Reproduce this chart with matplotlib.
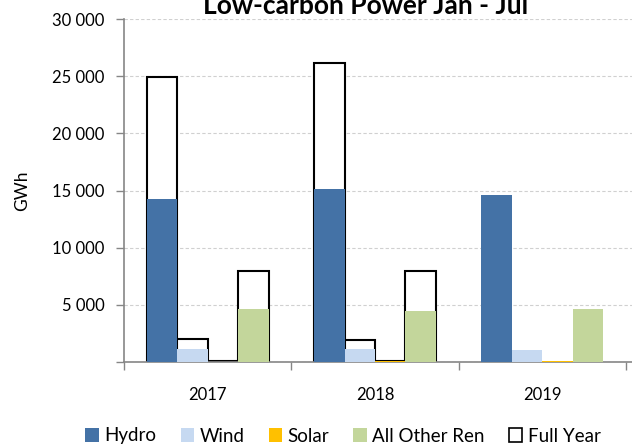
import matplotlib
matplotlib.use("Agg")
import matplotlib.pyplot as plt
import numpy as np
from matplotlib.patches import Patch
from matplotlib.ticker import FuncFormatter, FixedLocator

plt.rcParams['font.family'] = ['Lato', 'DejaVu Sans']

years = ["2017", "2018", "2019"]
series = ["Hydro", "Wind", "Solar", "All Other Ren"]
colors = ["#4472A6", "#C6D9F1", "#FFC000", "#C3D69B"]

# Jan - Jul production, GWh
jan_jul = {
    "Hydro": [14250, 15100, 14600],
    "Wind": [1150, 1100, 1080],
    "Solar": [40, 45, 60],
    "All Other Ren": [4650, 4450, 4600],
}
# full-year totals (no 2019 yet)
full_year = {
    "Hydro": [24950, 26150],
    "Wind": [2050, 1950],
    "Solar": [100, 100],
    "All Other Ren": [8000, 7950],
}

fig = plt.figure(figsize=(6.32, 4.46), dpi=100)
ax = fig.add_axes([124 / 632, 1 - 362 / 446, (632 - 124) / 632, (362 - 19) / 446])

x = np.arange(len(years))
w = 30.5 / 167.5
offsets = (np.arange(len(series)) - 1.5) * w

for i, s in enumerate(series):
    fy = full_year[s]
    ax.bar(x[:len(fy)] + offsets[i], fy, width=w, facecolor="white",
           edgecolor="black", linewidth=1.5, zorder=2)
for i, s in enumerate(series):
    ax.bar(x + offsets[i], jan_jul[s], width=w, color=colors[i],
           linewidth=0, zorder=3)

ax.set_xlim(-0.5, 2.5 + 6 / 167.5)
ax.set_ylim(0, 30000)
ax.set_yticks(np.arange(0, 30001, 5000))
ax.yaxis.set_major_formatter(FuncFormatter(
    lambda v, p: "" if v == 0 else f"{int(v):,}".replace(",", " ")))
ax.yaxis.grid(True, linestyle=(0, (3, 2)), color="#D0D0D0", linewidth=0.8)
ax.set_axisbelow(True)

# ticks sit on category boundaries, labels at centres
ax.xaxis.set_major_locator(FixedLocator([-0.5, 0.5, 1.5, 2.5]))
ax.xaxis.set_major_formatter(FuncFormatter(lambda v, p: ""))
ax.set_xticks(x, minor=True)
ax.set_xticklabels(years, minor=True)
ax.tick_params(axis="x", which="minor", length=0, pad=18, labelsize=12)
ax.tick_params(axis="x", which="major", length=6, color="#868686", width=1)
ax.tick_params(axis="y", length=6, color="#868686", width=1, labelsize=12, pad=8)

for side in ["top", "right"]:
    ax.spines[side].set_visible(False)
for side in ["left", "bottom"]:
    ax.spines[side].set_color("#868686")
    ax.spines[side].set_linewidth(1.2)

ax.set_ylabel("GWh", fontsize=12.5, labelpad=16)
fig.text(366 / 632, 1 - 14 / 446, "Low-carbon Power Jan - Jul", ha="center",
         va="baseline", fontsize=19, fontweight="bold")

handles = [Patch(facecolor=c, edgecolor="none") for c in colors]
handles.append(Patch(facecolor="white", edgecolor="black", linewidth=1.2))
fig.legend(handles, series + ["Full Year"], loc="center", ncol=5,
           bbox_to_anchor=(343 / 632, 1 - 436 / 446), frameon=False,
           fontsize=13.5, handlelength=0.7, handleheight=0.7,
           handletextpad=0.3, columnspacing=1.3)

fig.savefig("out.png", dpi=100)
